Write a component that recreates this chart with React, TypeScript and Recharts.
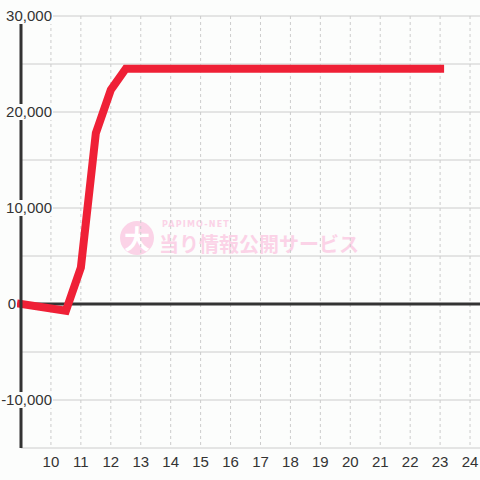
import React from 'react';
import { LineChart, Line, XAxis, YAxis, CartesianGrid, ReferenceLine } from 'recharts';

// hours (x) and balance values
const hours = [9, 10.5, 11, 11.5, 12, 12.5, 23];
const balance = [0, -700, 3800, 17800, 22300, 24500, 24500];
const xTicks = [10, 11, 12, 13, 14, 15, 16, 17, 18, 19, 20, 21, 22, 23, 24];
const yTicks = [-15000, -10000, -5000, 0, 5000, 10000, 15000, 20000, 25000, 30000];

const X_DOMAIN: [number, number] = [9, 24.333];

const data = hours.map((h, i) => ({ hour: h, value: balance[i] }));

const FONT = '"Liberation Sans", Arial, sans-serif';

const YTick = (props: any) => {
  const { y, payload } = props;
  const v = payload.value as number;
  if (v % 10000 !== 0) return <g />;
  const label = v.toLocaleString('en-US');
  const right = v === 0 ? 16 : 52;
  const w = label.length * 7.9;
  return (
    <g>
      <rect x={right - w - 1} y={y - 8} width={w + 2} height={16} fill="#fcfdfc" />
      <text x={right} y={y} dy="0.36em" textAnchor="end" fontSize={15} fill="#333" fontFamily={FONT}>
        {label}
      </text>
    </g>
  );
};

// vertical grid lines only at the integer hour ticks
const verticalLines = ({ xAxis, offset }: any) => {
  if (xAxis && typeof xAxis.scale === 'function') return xTicks.map((t) => xAxis.scale(t));
  const [a, b] = X_DOMAIN;
  return xTicks.map((t) => offset.left + ((t - a) / (b - a)) * offset.width);
};

const Watermark = () => (
  <div style={{ position: 'absolute', left: 0, top: 0, width: 480, height: 480, pointerEvents: 'none' }}>
    <div
      style={{
        position: 'absolute', left: 120, top: 221, width: 34, height: 34, borderRadius: '50%',
        background: '#fbd3e7', color: '#fff', fontFamily: '"Noto Sans CJK JP", sans-serif',
        fontWeight: 700, fontSize: 26, lineHeight: '34px', textAlign: 'center',
      }}
    >
      大
    </div>
    <div
      style={{
        position: 'absolute', left: 162, top: 220, fontFamily: '"DejaVu Sans", sans-serif',
        fontWeight: 700, fontSize: 8, letterSpacing: 1.2, color: '#fbd3e7', lineHeight: '10px',
      }}
    >
      PAPIMO-NET
    </div>
    <div
      style={{
        position: 'absolute', left: 159, top: 232, fontFamily: '"Noto Sans CJK JP", sans-serif',
        fontWeight: 700, fontSize: 20, color: '#fbd3e7', lineHeight: '24px', whiteSpace: 'nowrap',
      }}
    >
      当り情報公開サービス
    </div>
  </div>
);

export default function App() {
  return (
    <div style={{ position: 'fixed', left: 0, top: 0, width: 480, height: 480, background: '#fcfdfc' }}>
      <Watermark />
      <div style={{ position: 'absolute', left: 0, top: 0 }}>
        <LineChart width={480} height={480} data={data} margin={{ top: 16, right: 0, left: 0, bottom: 2 }}>
          <CartesianGrid
            stroke="#cccccc"
            horizontal={false}
            strokeDasharray="3 3"
            verticalCoordinatesGenerator={verticalLines}
          />
          <CartesianGrid stroke="#cccccc" vertical={false} />
          <XAxis
            dataKey="hour"
            type="number"
            domain={X_DOMAIN}
            ticks={xTicks}
            height={30}
            axisLine={false}
            tickLine={false}
            tick={{ fontSize: 15, fill: '#333', fontFamily: FONT }}
          />
          <YAxis
            type="number"
            width={21}
            domain={[-15000, 30000]}
            ticks={yTicks}
            interval={0}
            axisLine={{ stroke: '#333', strokeWidth: 3 }}
            tickLine={false}
            tick={<YTick />}
          />
          <ReferenceLine y={0} stroke="#333" strokeWidth={3} />
          <Line
            type="linear"
            dataKey="value"
            stroke="#ef2036"
            strokeWidth={8}
            strokeLinecap="square"
            dot={false}
            activeDot={false}
            isAnimationActive={false}
          />
        </LineChart>
      </div>
    </div>
  );
}
